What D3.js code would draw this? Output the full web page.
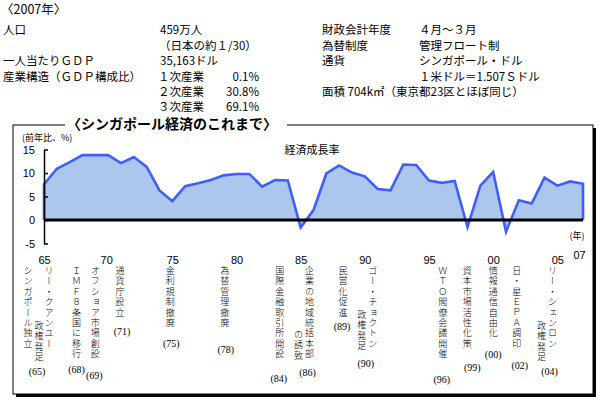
<!DOCTYPE html>
<html><head><meta charset="utf-8">
<script src="https://cdn.jsdelivr.net/npm/d3@7"></script>
<style>body{margin:0;background:#fff;} svg{display:block;}</style>
</head><body>
<svg id="c" width="600" height="400"></svg>
<script>
// ---------- data ----------
const years = [1965,1966,1967,1968,1969,1970,1971,1972,1973,1974,1975,1976,1977,1978,1979,1980,1981,1982,1983,1984,1985,1986,1987,1988,1989,1990,1991,1992,1993,1994,1995,1996,1997,1998,1999,2000,2001,2002,2003,2004,2005,2006,2007];
const growth = [7.6,10.9,12.3,13.8,13.8,13.8,12.1,13.4,11.3,6.3,4.0,7.2,7.8,8.5,9.5,9.8,9.8,7.1,8.5,8.4,-1.6,2.1,9.9,11.6,10.1,9.3,6.6,6.3,11.8,11.7,8.4,7.9,8.3,-1.5,7.3,10.2,-2.5,4.2,3.5,9.0,7.3,8.2,7.7];
const xTickYears = [1965,1970,1975,1980,1985,1990,1995,2000,2005,2007];
const xTickLabels = ["65","70","75","80","85","90","95","00","05","07"];
const yTicks = [15,10,5,0,-5];

const eventYears = [1965,1965,1965,1968,1969,1971,1975,1978,1984,1986,1986,1989,1990,1990,1996,1999,2000,2002,2004,2004];
const eventColumns = ["シンガポール独立","リー・クアンユー","政権発足","ＩＭＦ８条国に移行","オフショア市場創設","通貨庁設立","金利規制撤廃","為替管理撤廃","国際金融取引所開設","企業の地域統括本部","の誘致","民営化促進","ゴー・チョクトン","政権発足","ＷＴＯ閣僚会議開催","資本市場活性化策","情報通信自由化","日・星ＥＰＡ調印","リー・シェンロン","政権発足"];
const eventLabelYears = [1965,1968,1969,1971,1975,1978,1984,1986,1989,1990,1996,1999,2000,2002,2004];
const eventLabels = ["(65)","(68)","(69)","(71)","(75)","(78)","(84)","(86)","(89)","(90)","(96)","(99)","(00)","(02)","(04)"];

const infoHeader = "〈2007年〉";
const infoLeftLabels = ["人口","","一人当たりＧＤＰ","産業構造（ＧＤＰ構成比）","",""];
const infoLeftValues = ["459万人","（日本の約１/30）","35,163ドル","１次産業","２次産業","３次産業"];
const infoShares = ["","","","0.1%","30.8%","69.1%"];
const infoRightLabels = ["財政会計年度","為替制度","通貨","","面積 704k㎡（東京都23区とほぼ同じ）"];
const infoRightValues = ["４月～３月","管理フロート制","シンガポール・ドル","１米ドル＝1.507Ｓドル",""];

const chartTitle = "〈シンガポール経済のこれまで〉";
const unitLabel = "(前年比、%)";
const seriesName = "経済成長率";
const yearUnit = "(年)";

// ---------- layout ----------
const JP = "'Noto Sans CJK JP', sans-serif";
const svg = d3.select("#c");

// header info
svg.append("text").attr("x",1).attr("y",14).attr("font-family",JP).attr("font-size",12.5).text(infoHeader);
const rowY = [34,49.5,65,80.5,96,110.5];
infoLeftLabels.forEach((t,i)=>{ if(t) svg.append("text").attr("x",3).attr("y",rowY[i]).attr("font-family",JP).attr("font-size",11.5).text(t); });
infoLeftValues.forEach((t,i)=>{ svg.append("text").attr("x",i===1?159:(i>=3?158:160)).attr("y",rowY[i]).attr("font-family",JP).attr("font-size",11.5).text(t); });
infoShares.forEach((t,i)=>{ if(t) svg.append("text").attr("x",259).attr("y",rowY[i]).attr("text-anchor","end").attr("font-family",JP).attr("font-size",11.5).text(t); });
infoRightLabels.forEach((t,i)=>{ if(t) svg.append("text").attr("x",322).attr("y",rowY[i]).attr("font-family",JP).attr("font-size",11.5).text(t); });
infoRightValues.forEach((t,i)=>{ if(t) svg.append("text").attr("x",419).attr("y",rowY[i]).attr("font-family",JP).attr("font-size",11.5).text(t); });

// frame with shadow
const fx0=13, fy0=125, fx1=593, fy1=394;
svg.append("rect").attr("x",fx0+3).attr("y",fy0+3).attr("width",fx1-fx0).attr("height",fy1-fy0).attr("fill","#000");
svg.append("rect").attr("x",fx0).attr("y",fy0).attr("width",fx1-fx0).attr("height",fy1-fy0).attr("fill","#fff").attr("stroke","#000").attr("stroke-width",1);

// title over frame line
const title = svg.append("text").attr("x",172).attr("y",129).attr("text-anchor","middle")
  .attr("font-family",JP).attr("font-size",14).attr("font-weight","bold").text(chartTitle);
const bb = title.node().getBBox();
svg.insert("rect", () => title.node()).attr("x",bb.x-2).attr("y",fy0-2).attr("width",bb.width+12).attr("height",5).attr("fill","#fff");

// scales
const x = d3.scaleLinear().domain([1965,2007]).range([44,583]);
const y = d3.scaleLinear().domain([-5,15]).range([243.5,149.5]);

svg.append("text").attr("x",22).attr("y",141).attr("font-family",JP).attr("font-size",9).text(unitLabel);
svg.append("text").attr("x",312).attr("y",154).attr("text-anchor","middle").attr("font-family",JP).attr("font-size",11).text(seriesName);

// area
const pts = years.map((yr,i)=>({yr, v:growth[i]}));
const area = d3.area().x(d=>x(d.yr)).y0(y(0)).y1(d=>y(d.v));
svg.append("path").datum(pts).attr("d",area).attr("fill","#adc6ee").attr("stroke","none");
const line = d3.line().x(d=>x(d.yr)).y(d=>y(d.v));
const edge = [{yr:years[0],v:0}, ...pts, {yr:years[years.length-1],v:0}];
svg.append("path").datum(edge).attr("d",line).attr("fill","none").attr("stroke","#3f5ff6").attr("stroke-width",2.6).attr("stroke-linejoin","miter");

// zero line
svg.append("line").attr("x1",x(1965)).attr("x2",x(2007)).attr("y1",y(0)).attr("y2",y(0)).attr("stroke","#000").attr("stroke-width",2.8);

// y axis
const yAxis = svg.append("g").attr("transform",`translate(${x(1965)},0)`)
  .call(d3.axisLeft(y).tickValues(yTicks).tickSize(-4).tickSizeOuter(0).tickPadding(9).tickFormat(d=>d));
yAxis.select(".domain").attr("stroke","#000").attr("stroke-width",1.5);
yAxis.selectAll(".tick line").attr("stroke","#000").attr("stroke-width",1.5);
yAxis.selectAll(".tick text").attr("font-family","'Liberation Sans', Arial, sans-serif").attr("font-size",11).attr("fill","#000");

// x axis labels
const xAxis = svg.append("g").attr("transform","translate(0,256)")
  .call(d3.axisBottom(x).tickValues(xTickYears).tickSize(0).tickPadding(0).tickFormat((d,i)=>xTickLabels[i]));
xAxis.select(".domain").remove();
xAxis.selectAll(".tick text").attr("font-family","'Liberation Sans', Arial, sans-serif").attr("font-size",11).attr("fill","#000")
  .attr("dy", (d)=> d===2007 ? "0.25em" : "0.71em").attr("dx",(d)=> d===2007 ? -4 : (d===1970?-2:0));
svg.append("text").attr("x",577).attr("y",239).attr("text-anchor","middle").attr("font-family",JP).attr("font-size",9).text(yearUnit);

// event columns (vertical text)
const colDx = [-16,5,-5,-6,0,-1,-2,14,-8,-4,-15,-9,8,-3,1,-13,0,-2,8,-3];
const colTop = [266,266,321,266,266,266,266,266,266,266,330,266,266,310,266,266,266,266,266,321];
svg.append("g").selectAll("text").data(eventColumns).join("text")
  .attr("x",(d,i)=>x(eventYears[i])+colDx[i]).attr("y",(d,i)=>colTop[i])
  .attr("style","writing-mode: vertical-rl;")
  .attr("font-family",JP).attr("font-size",9).attr("font-weight",300).attr("letter-spacing",1.4).attr("fill","#000")
  .text(d=>d);

const labDx = [-7,-6,-1,1,-1,15,-9,-6,-10,1,0,-8,0,1,5];
const labY = [375,373,379,335,347,353,382,376,330,367,383,371,358,369,375];
svg.append("g").selectAll("text").data(eventLabels).join("text")
  .attr("x",(d,i)=>x(eventLabelYears[i])+labDx[i]).attr("y",(d,i)=>labY[i])
  .attr("text-anchor","middle").attr("font-family","'Liberation Serif', serif").attr("font-size",10).attr("fill","#000")
  .text(d=>d);
</script>
</body></html>
